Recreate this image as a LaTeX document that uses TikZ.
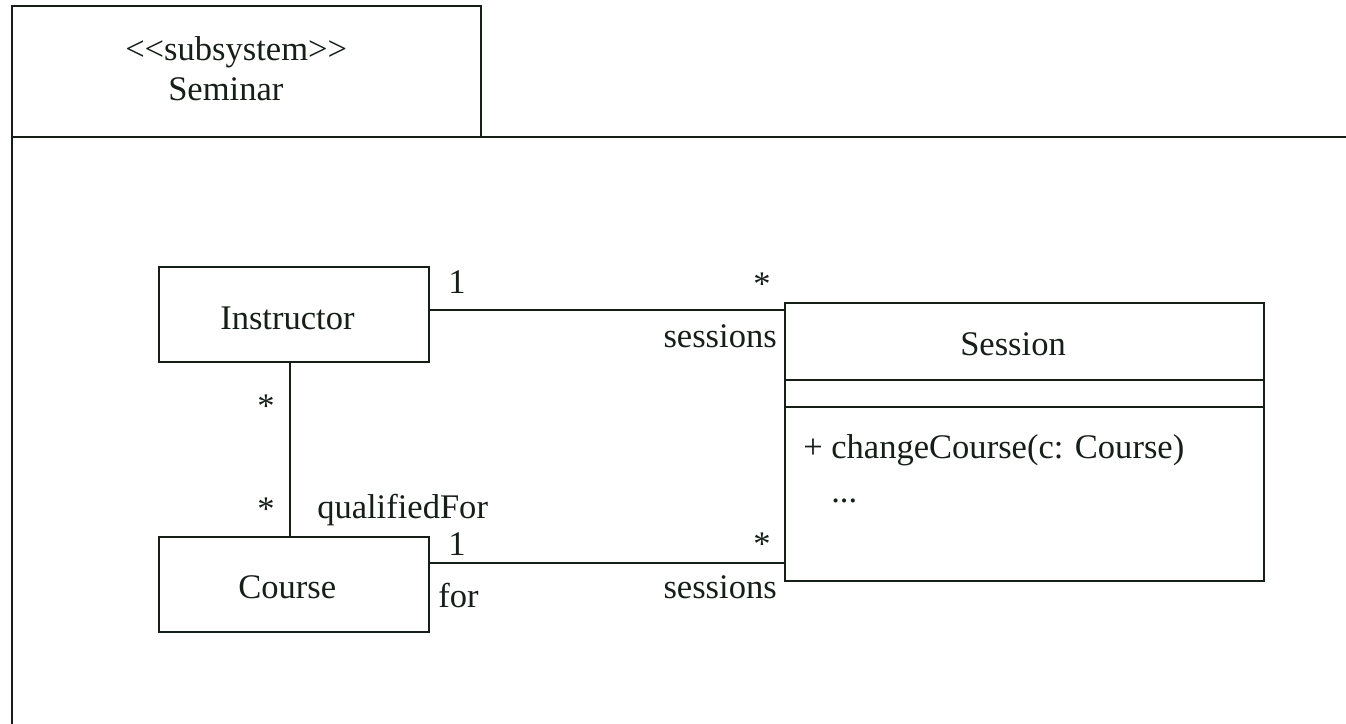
\documentclass[tikz,border=0pt]{standalone}
\usepackage{fontspec}
\setmainfont{Liberation Serif}
\definecolor{ink}{RGB}{22,30,24}
\begin{document}
\begin{tikzpicture}[x=0.75pt,y=-0.75pt,
  every node/.style={font=\fontsize{25.9}{30}\selectfont, text=ink},
  line/.style={draw=ink, line width=1.1pt},
  classbox/.style={line, rectangle, inner sep=0pt},
  smallclass/.style={classbox, minimum width=202.5pt, minimum height=71.25pt},
  lbl/.style={inner sep=0pt, anchor=base west}]
  \useasboundingbox (0,0) rectangle (1346,724);
  \clip (0,0) rectangle (1346,724);

  % package frame with name tab
  \draw[line] (12,730) -- (12,6) -- (481,6) -- (481,137);
  \draw[line] (12,137) -- (1350,137);
  \node[lbl] (stereo) at (125,61) {{<}{<}subsystem{>}{>}};
  \node[lbl] (pkgname) at (168,101) {Seminar};

  % classes
  \node[smallclass] (instructor) at (294,314.5) {};
  \node[lbl] (instructorname) at (220,329) {Instructor};
  \node[smallclass] (course) at (294,584.5) {};
  \node[lbl] (coursename) at (238,598) {Course};
  \node[classbox, minimum width=359.25pt, minimum height=208.5pt] (session) at (1024.5,442) {};
  \node[lbl] (sessionname) at (960,355) {Session};
  \draw[line] (session.west |- 0,380) -- (session.east |- 0,380);
  \draw[line] (session.west |- 0,407) -- (session.east |- 0,407);
  \node[lbl] (op) at (803,458) {+ changeCourse(c: Course)};
  \node[lbl] (more) at (831,502) {...};

  % associations
  \draw[line] (instructor.east |- 0,310) -- (session.west |- 0,310);
  \draw[line] (course.east |- 0,563) -- (session.west |- 0,563);
  \draw[line] (instructor.south -| 290,0) -- (course.north -| 290,0);

  % association end labels
  \node[lbl] (m1) at (448,293) {1};
  \node[lbl] (m2) at (753,295) {*};
  \node[lbl, anchor=base east] (r1) at (777,347) {sessions};
  \node[lbl] (m3) at (257,417) {*};
  \node[lbl] (m4) at (257,520) {*};
  \node[lbl] (r2) at (317,518) {qualifiedFor};
  \node[lbl] (m5) at (448,555) {1};
  \node[lbl] (m6) at (753,555) {*};
  \node[lbl] (r3) at (438,607) {for};
  \node[lbl, anchor=base east] (r4) at (777,598) {sessions};
\end{tikzpicture}
\end{document}
